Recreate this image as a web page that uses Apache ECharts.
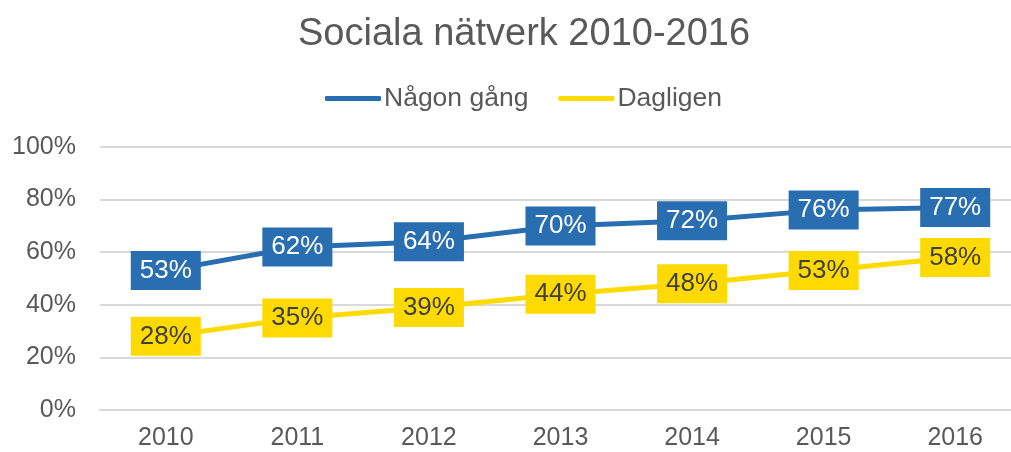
<!DOCTYPE html>
<html>
<head>
<meta charset="utf-8">
<script src="https://cdn.jsdelivr.net/npm/echarts@6/dist/echarts.min.js"></script>
<style>
  html, body { margin: 0; padding: 0; background: #ffffff; }
  #chart { width: 1011px; height: 452px; }
</style>
</head>
<body>
<div id="chart"></div>
<script>
// Andel som använder sociala nätverk, per år
const years = ['2010', '2011', '2012', '2013', '2014', '2015', '2016'];
const nagonGang = [53, 62, 64, 70, 72, 76, 77];
const dagligen = [28, 35, 39, 44, 48, 53, 58];
const seriesNames = ['Någon gång', 'Dagligen'];

const BLUE = '#2A6EB2';
const YELLOW = '#FFDA00';
const FONT = '"Liberation Sans", Arial, sans-serif';

function labelStyle(bg, fg) {
  return {
    show: true,
    position: 'inside',
    formatter: p => p.value + '%',
    backgroundColor: bg,
    color: fg,
    fontFamily: FONT,
    fontSize: 26,
    padding: [6, 9, 6, 9],
    lineHeight: 27
  };
}

const chart = echarts.init(document.getElementById('chart'), null, { renderer: 'canvas' });
chart.setOption({
  animation: false,
  backgroundColor: '#ffffff',
  title: {
    text: 'Sociala nätverk 2010-2016',
    left: 293,
    top: 11,
    textStyle: { fontFamily: FONT, fontSize: 38, fontWeight: 'normal', color: '#595959' }
  },
  legend: {
    top: 80,
    left: 320,
    icon: 'roundRect',
    itemWidth: 56,
    itemHeight: 5,
    itemGap: 30,
    textStyle: { fontFamily: FONT, fontSize: 26.5, color: '#595959', padding: [0, 0, 0, -2] },
    data: seriesNames
  },
  // the plot area runs a little past the right edge of the canvas
  grid: { left: 100, top: 147, bottom: 42, width: 921, outerBoundsMode: 'none', containLabel: false },
  xAxis: {
    type: 'category',
    data: years,
    boundaryGap: true,
    axisLine: { show: true, lineStyle: { color: '#D9D9D9', width: 2 } },
    axisTick: { show: false },
    axisLabel: { fontFamily: FONT, fontSize: 25, color: '#595959', margin: 16 }
  },
  yAxis: {
    type: 'value',
    min: 0,
    max: 100,
    interval: 20,
    axisLine: { show: false },
    axisTick: { show: false },
    splitLine: { lineStyle: { color: '#D9D9D9', width: 2 } },
    axisLabel: { fontFamily: FONT, fontSize: 25, color: '#595959', margin: 24, formatter: '{value}%' }
  },
  series: [
    {
      name: seriesNames[0],
      type: 'line',
      data: nagonGang,
      color: BLUE,
      symbol: 'circle',
      symbolSize: 1,
      lineStyle: { width: 5, color: BLUE },
      label: labelStyle(BLUE, '#ffffff')
    },
    {
      name: seriesNames[1],
      type: 'line',
      data: dagligen,
      color: YELLOW,
      symbol: 'circle',
      symbolSize: 1,
      lineStyle: { width: 5, color: YELLOW },
      label: labelStyle(YELLOW, '#404040')
    }
  ]
});
</script>
</body>
</html>
